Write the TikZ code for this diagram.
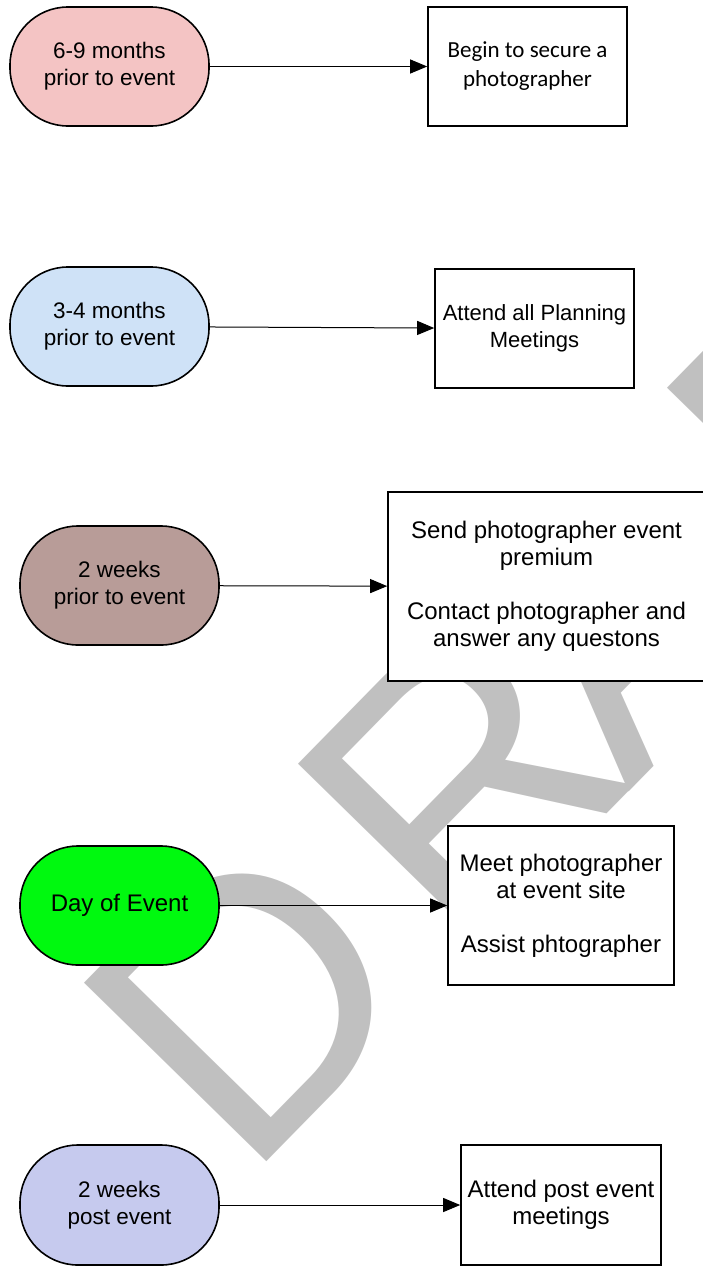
\documentclass[tikz,border=0pt]{standalone}
\usepackage{fontspec}
\setmainfont{Liberation Sans}
\newfontfamily\calibrifont{Carlito}
\newfontfamily\draftfont[LetterSpace=10.5]{Liberation Sans}
\usepackage{tikz}
\usetikzlibrary{arrows.meta}
\usetikzlibrary{positioning}

\definecolor{pinkfill}{HTML}{F4C4C4}
\definecolor{bluefill}{HTML}{CFE2F7}
\definecolor{mauvefill}{HTML}{B89C98}
\definecolor{greenfill}{HTML}{00F90F}
\definecolor{lilacfill}{HTML}{C6CAEE}
\definecolor{draftgray}{HTML}{C0C0C0}

\tikzset{
  period/.style={draw, line width=1.6pt, rounded corners=58pt, minimum width=199pt, minimum height=119pt,
    inner sep=0pt, align=center, font=\fontsize{22.5}{27}\selectfont},
  task/.style={draw, fill=white, line width=1.6pt, minimum width=199pt, minimum height=119pt,
    inner sep=0pt, align=center, font=\fontsize{24}{27}\selectfont},
  link/.style={line width=1pt, -{Triangle[length=17pt,width=14pt]}}
}

\begin{document}
\begin{tikzpicture}[x=1pt,y=-1pt]
  \useasboundingbox (0,0) rectangle (703,1266);
  % watermark behind everything
  \node[text=draftgray, font=\draftfont\fontsize{371}{371}\selectfont, rotate=45.6, anchor=base west, inner sep=0pt] (draft) at (245,1184) {DR\kern-27pt AFT};

  \node[period, fill=pinkfill] (when1) at (109.5,66.5) {6-9 months\\prior to event};
  \node[task, font=\calibrifont\fontsize{23}{29}\selectfont] (task1) at (527.5,66.5) {Begin to secure a\\photographer};

  \node[period, fill=bluefill] (when2) at (109.5,326.5) {3-4 months\\prior to event};
  \node[task, font=\fontsize{22}{27}\selectfont] (task2) at (534.5,328.5) {Attend all Planning\\Meetings};

  \node[period, fill=mauvefill] (when3) at (119.5,585.5) {2 weeks\\prior to event};
  \node[task, minimum width=317pt, minimum height=189pt] (task3) at (546.5,586.5) {Send photographer event\\premium\\[27pt]Contact photographer and\\answer any questons};

  \node[period, fill=greenfill, font=\fontsize{24}{27}\selectfont] (when4) at (119.5,905.5) {Day of Event};
  \node[task, minimum width=226pt, minimum height=159pt] (task4) at (561,905.5) {Meet photographer\\at event site\\[27pt]Assist phtographer};

  \node[period, fill=lilacfill, minimum height=120pt] (when5) at (119.5,1205) {2 weeks\\post event};
  \node[task, minimum width=200pt, minimum height=120pt] (task5) at (561,1205) {Attend post event\\meetings};

  \draw[link] (when1) -- (task1);
  \draw[link] (when2) -- (task2);
  \draw[link] (when3) -- (task3);
  \draw[link] (when4) -- (task4);
  \draw[link] (when5) -- (task5);
\end{tikzpicture}
\end{document}
